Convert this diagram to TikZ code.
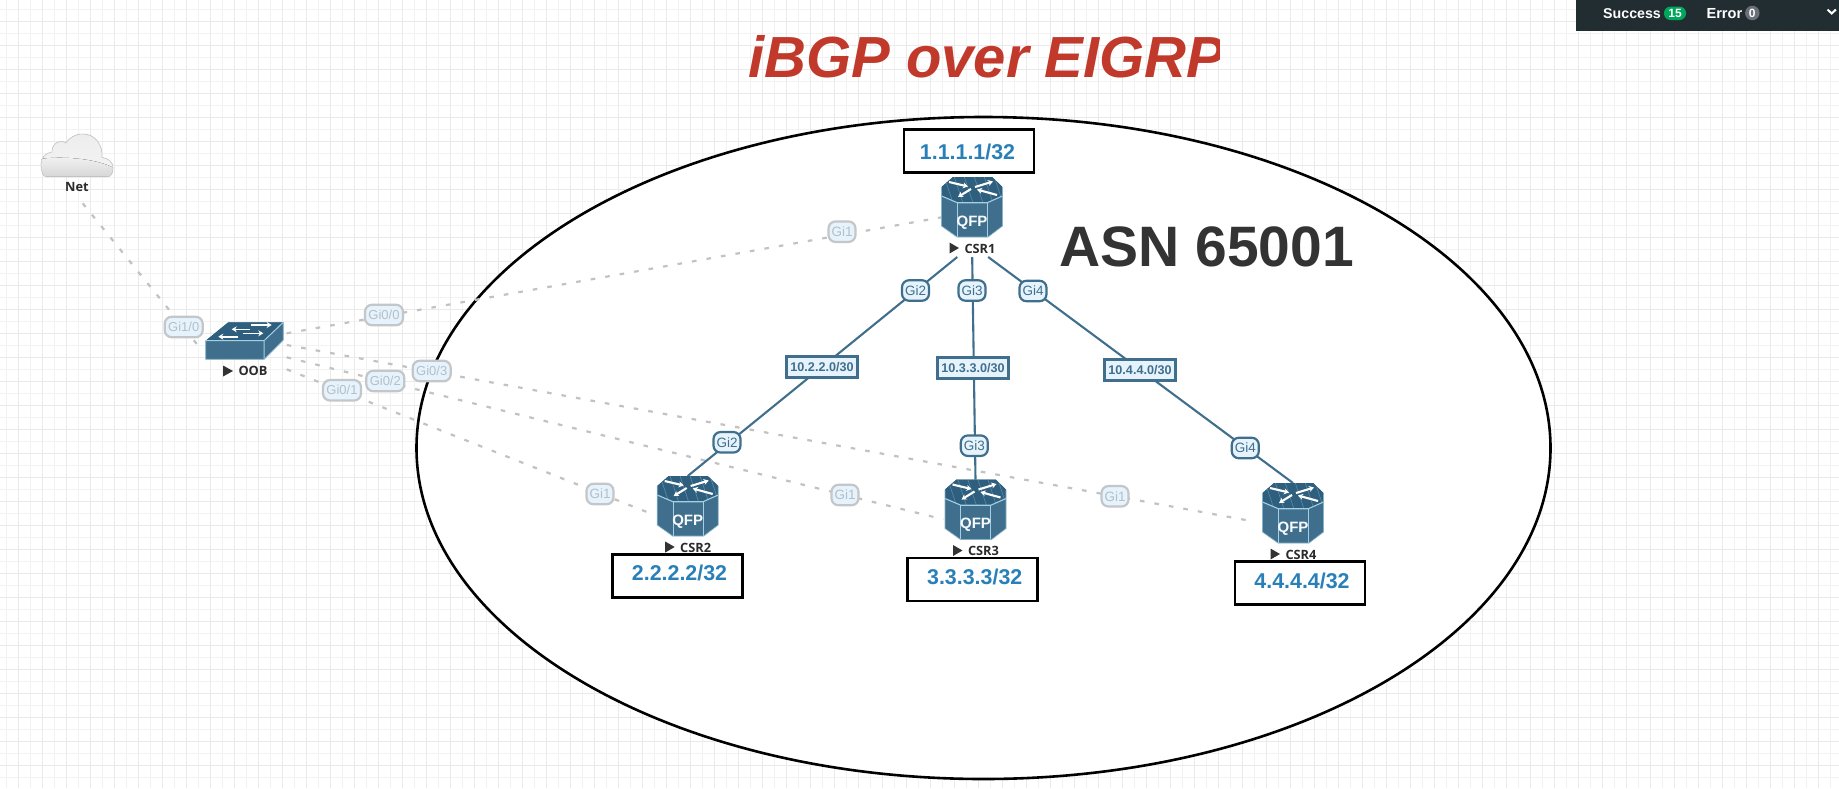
\documentclass[tikz,border=0pt]{standalone}
\usepackage{fontspec}
\setmainfont{Liberation Sans}
\newfontfamily\nodefont{Open Sans}
\usetikzlibrary{arrows.meta}
\definecolor{netblue}{HTML}{3F6F8C}
\definecolor{netdark}{HTML}{2F5F7E}
\definecolor{netlight}{HTML}{A5CFE2}
\definecolor{gifill}{HTML}{E6F3FC}
\definecolor{gridstrong}{HTML}{EAEAEA}
\definecolor{gridlight}{HTML}{F2F2F2}
\definecolor{mgmtgrey}{HTML}{C2C2C2}
\definecolor{fadeborder}{HTML}{C4C7CA}
\definecolor{fadetext}{HTML}{B4BFC8}
\definecolor{addrblue}{HTML}{2980B9}
\definecolor{titlered}{HTML}{C0392B}
\definecolor{asngrey}{HTML}{333333}
\definecolor{bardark}{HTML}{222D32}
\definecolor{okgreen}{HTML}{00A65A}
\definecolor{badgegrey}{HTML}{6A6F78}
\definecolor{iconlabel}{HTML}{2B2B2B}
\tikzset{
  mgmt/.style={draw=mgmtgrey,line width=2.2pt,dash pattern=on 4.6pt off 10.1pt},
  link/.style={draw=netblue,line width=2.1pt},
  gi/.style={draw=netblue,line width=2.2pt,fill=gifill,rounded corners=7pt,text=netblue,
    minimum width=27pt,minimum height=20.5pt,inner sep=0pt,font=\fontsize{13.5}{15}\selectfont},
  gifade/.style={gi,draw=fadeborder,text=fadetext},
  giwide/.style={gifade,minimum width=38pt,font=\fontsize{13}{15}\selectfont},
  subnet/.style={draw=netblue,line width=2.4pt,fill=gifill,text=netblue,inner sep=0pt,
    minimum width=71pt,minimum height=21pt,font=\fontsize{12.6}{15}\selectfont\bfseries},
  addr/.style={draw=black,line width=2.5pt,fill=white,inner sep=0pt,
    minimum width=130pt,minimum height=43pt},
  addrtext/.style={text=addrblue,inner sep=0pt,font=\fontsize{21.4}{24}\selectfont\bfseries},
  iconlab/.style={text=iconlabel,inner sep=0pt,font=\nodefont\fontsize{12.8}{14}\selectfont\bfseries},
  flowarrow/.style={draw=white,line width=2.1pt,-{Stealth[length=5pt,width=6pt]}},
  port/.style={inner sep=0pt,outer sep=0pt,minimum width=#1},
  pics/qfprouter/.style={code={
    \node[inner sep=0pt,outer sep=0pt,minimum width=61pt,minimum height=60pt] (-box) at (0,0) {};
    \fill[netblue] (-30.5,-20)--(-19,-30)--(20,-30)--(30.5,-20)--(30.5,19)--(16,30)--(-15,30)--(-30.5,19)--cycle;
    \begin{scope}
      \clip (-30.5,-20)--(-19,-30)--(20,-30)--(30.5,-20)--(30.5,-11)--(15.3,-4.3)--(-14.7,-4.3)--(-30.5,-11)--cycle;
      \fill[netdark] (-31,-31) rectangle (31,-3);
      \foreach \k in {-28,-18,...,28}
        \draw[netlight!30!netblue,line width=.6pt] (\k,-31) -- (\k+9,-4);
    \end{scope}
    \draw[netlight,line width=1.1pt] (-30.5,-11)--(-14.7,-4.3)--(15.3,-4.3)--(30.5,-11);
    \draw[netlight,line width=.9pt] (-14.7,-4.3)--(-14.7,30) (15.3,-4.3)--(15.3,30);
    \draw[netlight!70!netblue,line width=.7pt] (-30.5,-20)--(-30.5,19)--(-15,30)--(16,30)--(30.5,19)--(30.5,-20);
    \draw[flowarrow] (-23,-25) -- (-4,-20.5);
    \draw[flowarrow] (3,-20) -- (21,-25.5);
    \draw[flowarrow] (-1,-18) -- (-14,-10);
    \draw[flowarrow] (25,-12) -- (5,-17.5);
    \node[text=white!92!netlight,inner sep=0pt,font=\fontsize{15}{17}\selectfont\bfseries] (-qfp) at (0,15.3) {QFP};
    \fill[asngrey] (-22.5,35.5)--(-13,41)--(-22.5,46.5)--cycle;
    \node[iconlab] (-name) at (8,41.5) {#1};
  }},
}
\begin{document}
\begin{tikzpicture}[x=1pt,y=-1pt]
\useasboundingbox (0,0) rectangle (1839,788);
\fill[white] (0,0) rectangle (1839,788);
% grid
\foreach \g in {6.3,30.3,...,1839} \draw[gridlight,line width=1pt] (\g,0) -- (\g,788);
\foreach \g in {9.3,33.3,...,788} \draw[gridlight,line width=1pt] (0,\g) -- (1839,\g);
\foreach \g in {18.3,42.3,...,1839} \draw[gridstrong,line width=1.2pt] (\g,0) -- (\g,788);
\foreach \g in {21.3,45.3,...,788} \draw[gridstrong,line width=1.2pt] (0,\g) -- (1839,\g);
% status bar
\node[fill=bardark,inner sep=0pt,outer sep=0pt,minimum width=262.7pt,minimum height=31pt,anchor=north west] (statusbar) at (1576.3,0) {};
\node[text=white,inner sep=0pt,anchor=west,font=\fontsize{14.2}{16}\selectfont\bfseries] (successtxt) at (1603,14) {Success};
\node[fill=okgreen,text=white,rounded corners=6.5pt,inner sep=0pt,minimum width=22pt,minimum height=13.5pt,font=\fontsize{12}{14}\selectfont\bfseries] (successbadge) at (1675,13.3) {15};
\node[text=white,inner sep=0pt,anchor=west,font=\fontsize{14.6}{16}\selectfont\bfseries] (errortxt) at (1706.3,14) {Error};
\node[fill=badgegrey,text=white,circle,inner sep=0pt,minimum size=14.5pt,font=\fontsize{12}{14}\selectfont\bfseries] (errorbadge) at (1752.3,13) {0};
\draw[white,line width=2pt] (1827.5,9.5) -- (1831.7,13.5) -- (1835.9,9.5);
% title
\begin{scope}
  \clip (0,0) rectangle (1219.5,120);
  \node[text=titlered,inner sep=0pt,anchor=base west,font=\fontsize{58}{60}\selectfont\bfseries\itshape] (title) at (748,77) {iBGP over EIGRP};
\end{scope}
% AS ellipse
\draw[black,line width=2.6pt,fill=white] (983.5,448) ellipse [x radius=567,y radius=331];
\node[text=asngrey,inner sep=0pt,anchor=base west,font=\fontsize{57}{60}\selectfont\bfseries] (asn) at (1059,266.7) {ASN 65001};
% invisible anchors
\coordinate (netport) at (82.7,203.3);
\coordinate (oobwest) at (201.7,350);
\coordinate (oobg00) at (286.7,333.3);
\coordinate (oobg03) at (286.7,345);
\coordinate (oobg02) at (286.7,357.3);
\coordinate (oobg01) at (286.7,369.3);
\coordinate (csr1g1) at (941.7,217.3);
\coordinate (csr2g1) at (652.7,514.3);
\coordinate (csr3g1) at (943.3,519.3);
\coordinate (csr4g1) at (1255,521.7);
\node[port=60pt,minimum height=24pt] (csr1port) at (972,245) {};
\coordinate (csr2top) at (687.7,476);
\coordinate (csr3top) at (975.5,479.5);
\coordinate (csr4top) at (1293,483);
% management links
\draw[mgmt] (netport) -- (oobwest);
\draw[mgmt] (oobg00) -- (csr1g1);
\draw[mgmt] (oobg03) -- (csr4g1);
\draw[mgmt] (oobg02) -- (csr3g1);
\draw[mgmt] (oobg01) -- (csr2g1);
% data links
\draw[link] (csr1port) -- (csr2top);
\draw[link] (csr1port) -- (csr3top);
\draw[link] (csr1port) -- (csr4top);
% cloud
\node[inner sep=0pt,minimum width=72pt,minimum height=43pt] (net) at (77,155.4) {};
\begin{scope}
  \path[clip] (46,176.7) -- (107.3,176.7) .. controls (111,176.7) and (113,173) .. (113,168) .. controls (113,162) and (108,158) .. (102,157.5) .. controls (103,145) and (95,134) .. (83,134) .. controls (75,134) and (69,138) .. (66,143) .. controls (60,139) and (52,143) .. (52,152) .. controls (46,153) and (41,157) .. (41,164) .. controls (41,171) and (43,176.7) .. (46,176.7) -- cycle;
  \fill[top color=white!86!gray,bottom color=white!90!gray] (40,133) rectangle (114,165);
  \fill[top color=white!90!gray,bottom color=white!68!gray] (40,177) -- (40,159) .. controls (60,156) and (95,158) .. (114,168) -- (114,177) -- cycle;
\end{scope}
\draw[white!62!gray,line width=.7pt] (46,176.7) -- (107.3,176.7) .. controls (111,176.7) and (113,173) .. (113,168) .. controls (113,162) and (108,158) .. (102,157.5) .. controls (103,145) and (95,134) .. (83,134) .. controls (75,134) and (69,138) .. (66,143) .. controls (60,139) and (52,143) .. (52,152) .. controls (46,153) and (41,157) .. (41,164) .. controls (41,171) and (43,176.7) .. (46,176.7) -- cycle;
\node[iconlab] (netlabel) at (77,186.7) {Net};
% switch
\node[inner sep=0pt,minimum width=78pt,minimum height=37pt] (oob) at (244.5,341) {};
\fill[netblue] (205.7,340.7) -- (228.3,322.3) -- (283.3,322.3) -- (283.3,340) -- (264,359.3) -- (205.7,359.3) -- cycle;
\fill[netdark] (205.7,340.7) -- (228.3,322.3) -- (283.3,322.3) -- (264,340.7) -- cycle;
\draw[netlight,line width=1pt] (205.7,340.7) -- (264,340.7) -- (283.3,322.3) (264,340.7) -- (264,359.3);
\draw[netlight!70!netblue,line width=.7pt] (205.7,340.7) -- (205.7,359.3) -- (264,359.3) -- (283.3,340) -- (283.3,322.3);
\draw[flowarrow,line width=1.6pt] (250.7,325) -- (271.7,325);
\draw[flowarrow,line width=1.6pt] (250,329.3) -- (231.7,329.3);
\draw[flowarrow,line width=1.6pt] (242.7,333.3) -- (263.3,333.3);
\draw[flowarrow,line width=1.6pt] (238.3,336.7) -- (218.3,336.7);
\fill[asngrey] (223,365.5) -- (233,371) -- (223,376.5) -- cycle;
\node[iconlab] (ooblabel) at (253,371.3) {OOB};
% routers
\pic (csr1) at (972,207) {qfprouter=CSR1};
\pic (csr2) at (687.7,506) {qfprouter=CSR2};
\pic (csr3) at (975.5,509.5) {qfprouter=CSR3};
\pic (csr4) at (1293,513) {qfprouter=CSR4};
% address boxes
\node[addr] (addr1) at (969,151) {};
\node[addrtext] (addr1text) at (967.5,152) {1.1.1.1/32};
\node[addr] (addr2) at (677.3,575.8) {};
\node[addrtext] (addr2text) at (679.5,572.9) {2.2.2.2/32};
\node[addr] (addr3) at (972.5,579.5) {};
\node[addrtext] (addr3text) at (974.7,577) {3.3.3.3/32};
\node[addr] (addr4) at (1300,583) {};
\node[addrtext] (addr4text) at (1302,580.5) {4.4.4.4/32};
% interface labels
\node[gi] (c1g2) at (915.5,290.5) {Gi2};
\node[gi] (c1g3) at (972,290.5) {Gi3};
\node[gi] (c1g4) at (1033,291) {Gi4};
\node[gi] (c2g2) at (727,442.3) {Gi2};
\node[gi] (c3g3) at (974.3,445.7) {Gi3};
\node[gi] (c4g4) at (1245.3,448) {Gi4};
\node[subnet] (sub2) at (822,366.8) {10.2.2.0/30};
\node[subnet] (sub3) at (973,367.8) {10.3.3.0/30};
\node[subnet] (sub4) at (1140,370) {10.4.4.0/30};
\node[gifade] (c1g1) at (842,231.7) {Gi1};
\node[gifade] (c2g1) at (600,494) {Gi1};
\node[gifade] (c3g1) at (845,495) {Gi1};
\node[gifade] (c4g1) at (1115,496.3) {Gi1};
\node[giwide] (og10) at (183.7,327) {Gi1/0};
\node[giwide] (og00) at (384,315) {Gi0/0};
\node[giwide] (og03) at (431.7,371) {Gi0/3};
\node[giwide] (og02) at (385.3,381) {Gi0/2};
\node[giwide] (og01) at (342,390.3) {Gi0/1};
\end{tikzpicture}
\end{document}
